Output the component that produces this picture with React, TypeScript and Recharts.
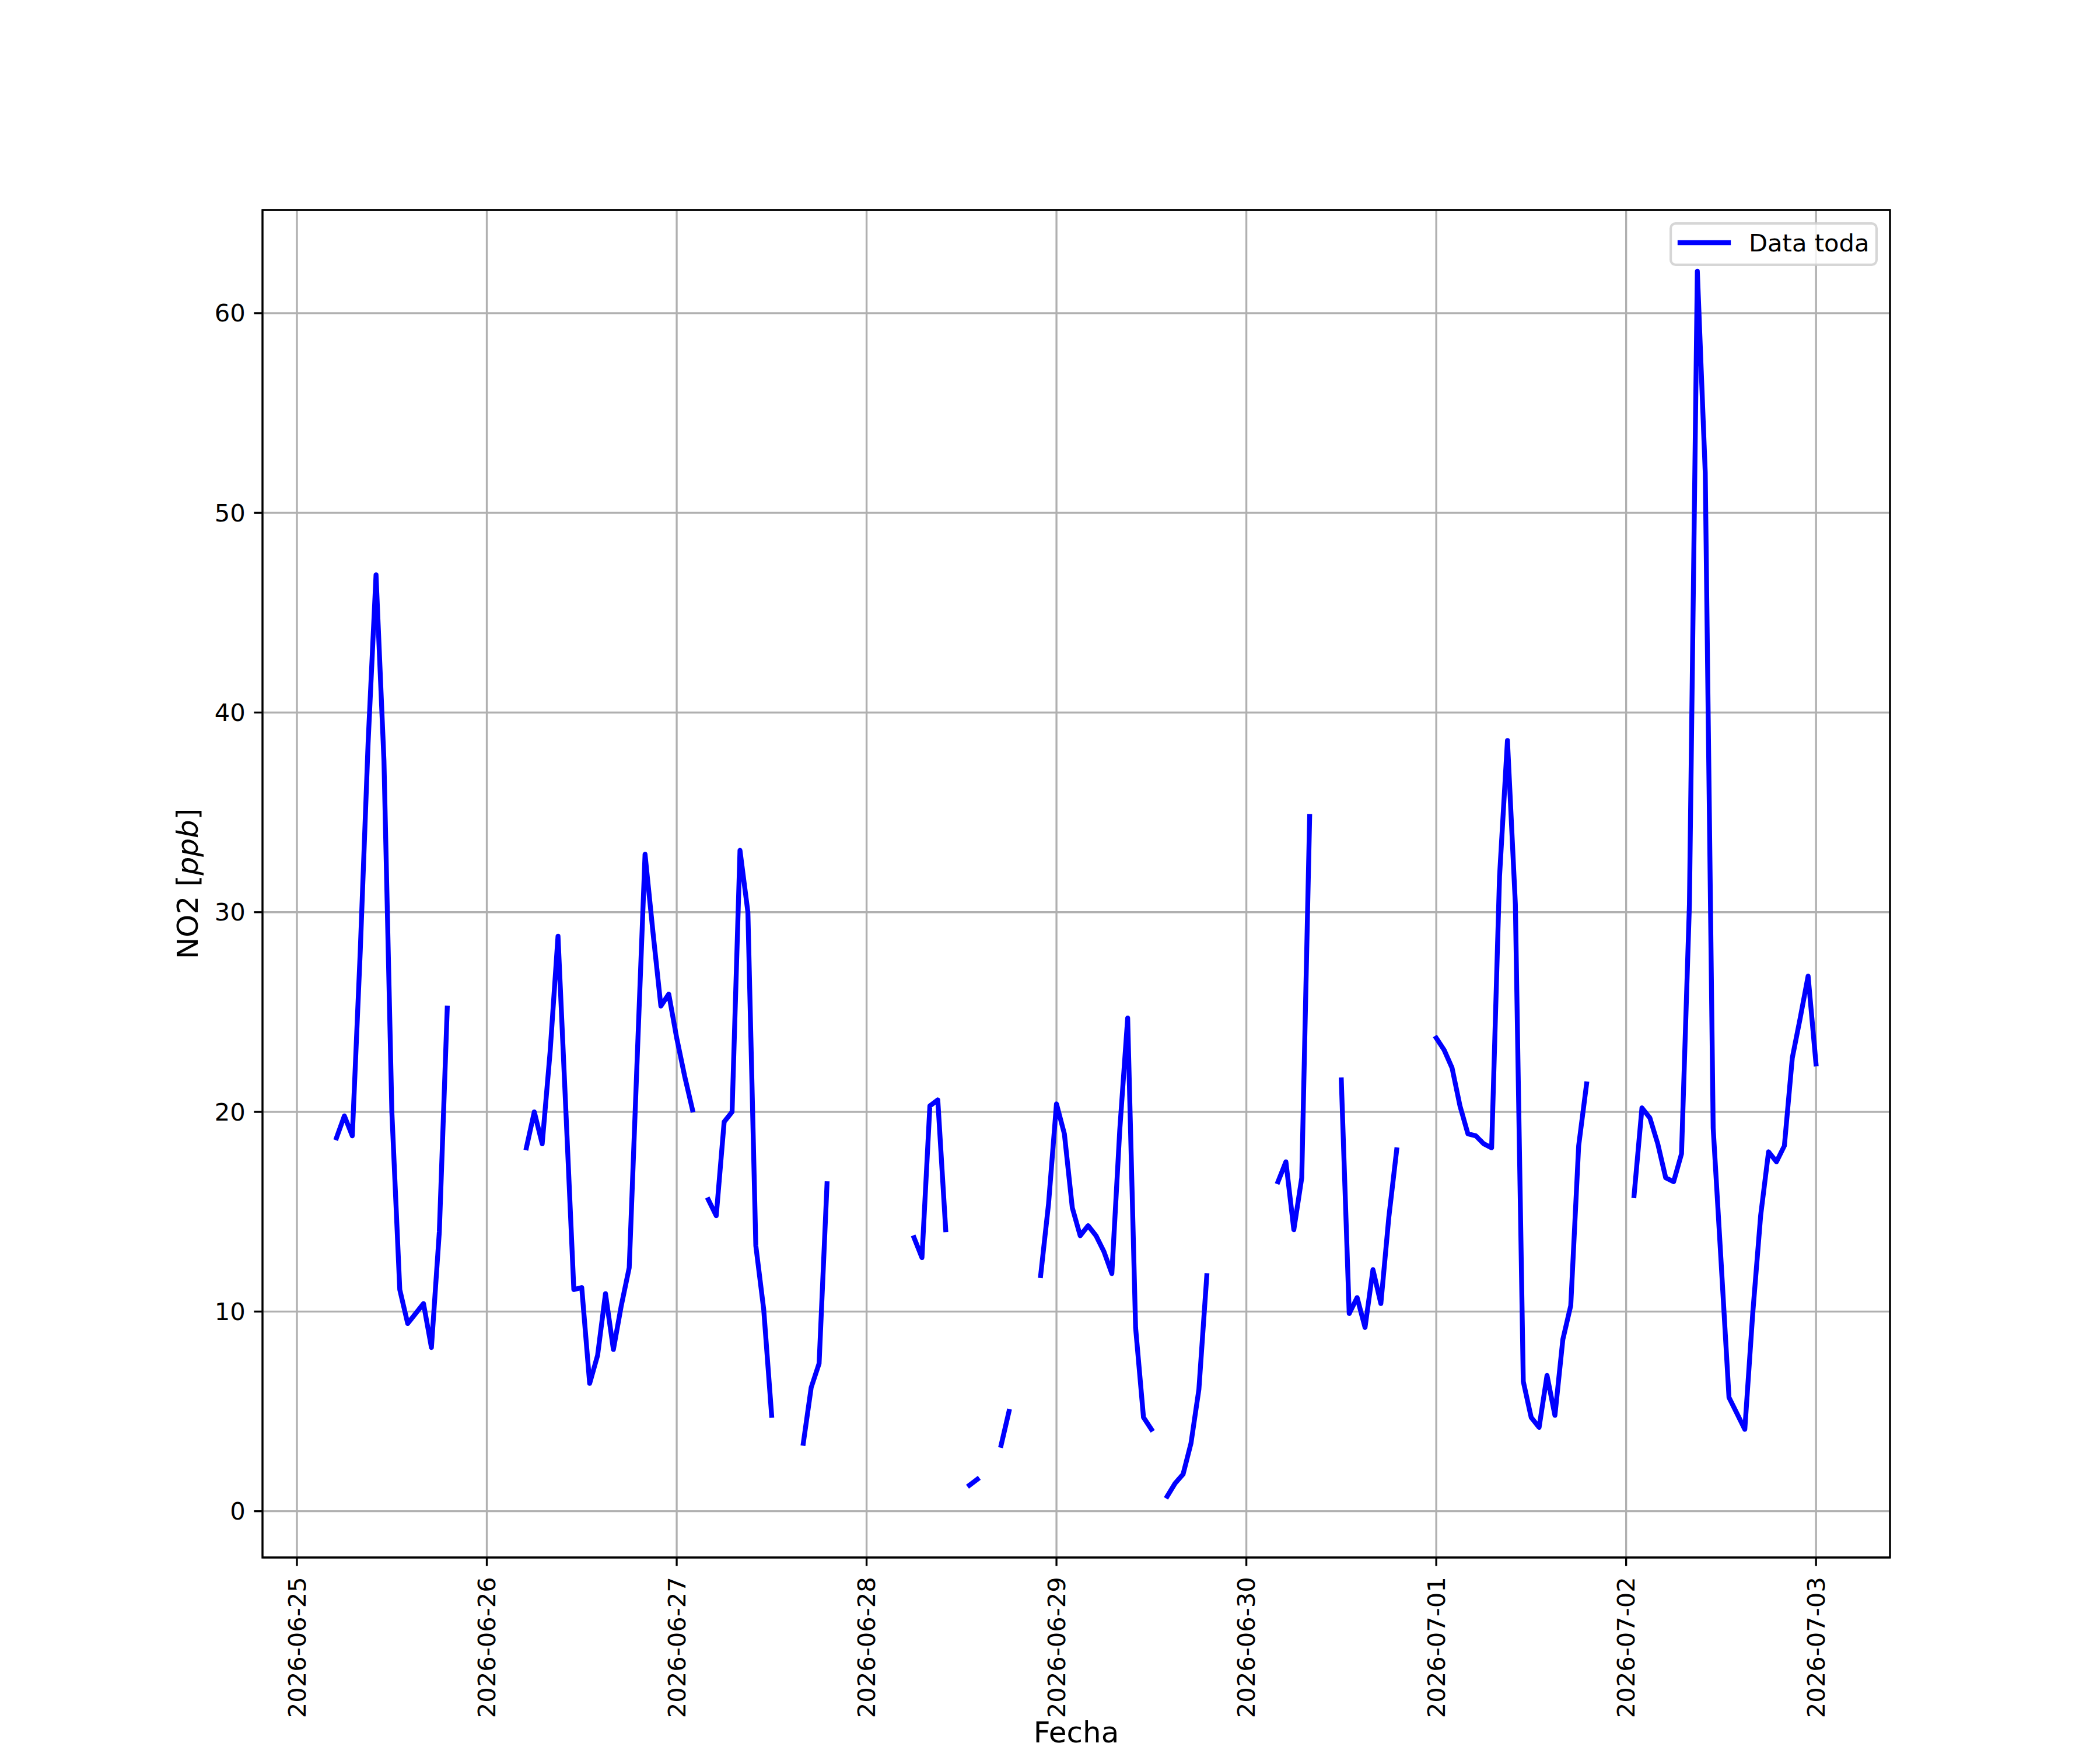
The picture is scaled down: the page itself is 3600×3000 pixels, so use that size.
import React from 'react';
import { LineChart, Line, XAxis, YAxis, CartesianGrid, Legend, ReferenceArea } from 'recharts';

// ---------------- data ----------------
const SERIES_NAME = 'Data toda';
const FIRST_SAMPLE_UTC = Date.UTC(2026, 5, 25, 5); // 2026-06-25 05:00, hourly samples
const HOUR_MS = 3600000;

// NO2 hourly values [ppb], null = missing hour
const no2Jun25 = [18.7, 19.8, 18.8, 28.0, 38.5, 46.9, 37.6, 20.0, 11.1, 9.4, 9.9, 10.4, 8.2, 14.0, 25.2, null, null, null, null]; // 05..23
const no2Jun26 = [null, null, null, null, null, 18.2, 20.0, 18.4, 23.0, 28.8, 20.0, 11.1, 11.2, 6.4, 7.8, 10.9, 8.1, 10.3, 12.2, 22.6, 32.9, 29.0, 25.3, 25.9];
const no2Jun27 = [23.7, 21.8, 20.1, null, 15.6, 14.8, 19.5, 20.0, 33.1, 30.0, 13.3, 10.1, 4.8, null, null, null, 3.4, 6.2, 7.4, 16.4, null, null, null, null];
const no2Jun28 = [null, null, null, null, null, null, 13.7, 12.7, 20.3, 20.6, 14.1, null, null, 1.3, 1.6, null, null, 3.3, 5.0, null, null, null, 11.8, 15.4];
const no2Jun29 = [20.4, 18.9, 15.2, 13.8, 14.3, 13.8, 13.0, 11.9, 19.1, 24.7, 9.2, 4.7, 4.1, null, 0.75, 1.4, 1.85, 3.4, 6.1, 11.8, null, null, null, null];
const no2Jun30 = [null, null, null, null, 16.5, 17.5, 14.1, 16.7, 34.8, null, null, null, 21.6, 9.9, 10.7, 9.2, 12.1, 10.4, 14.7, 18.1, null, null, null, null];
const no2Jul01 = [23.7, 23.1, 22.2, 20.3, 18.9, 18.8, 18.4, 18.2, 31.8, 38.6, 30.4, 6.5, 4.7, 4.2, 6.8, 4.8, 8.6, 10.3, 18.3, 21.4, null, null, null, null];
const no2Jul02 = [null, 15.8, 20.2, 19.7, 18.4, 16.7, 16.5, 17.9, 30.4, 62.1, 52.0, 19.2, 12.5, 5.7, 4.9, 4.1, 9.9, 14.8, 18.0, 17.5, 18.3, 22.7, 24.7, 26.8];
const no2Jul03 = [22.4];

const no2Values: (number | null)[] = [
  ...no2Jun25, ...no2Jun26, ...no2Jun27, ...no2Jun28, ...no2Jun29,
  ...no2Jun30, ...no2Jul01, ...no2Jul02, ...no2Jul03,
];

const xTickLabels = [
  '2026-06-25', '2026-06-26', '2026-06-27', '2026-06-28', '2026-06-29',
  '2026-06-30', '2026-07-01', '2026-07-02', '2026-07-03',
];
const yTicks = [0, 10, 20, 30, 40, 50, 60];

const data = no2Values.map((v, i) => ({ t: FIRST_SAMPLE_UTC + i * HOUR_MS, no2: v }));
const xTicks = xTickLabels.map((s) => Date.parse(s + 'T00:00:00Z'));

// matplotlib-like 5% autoscale margins
const tVals = data.map((d) => d.t);
const vVals = no2Values.filter((v): v is number => v !== null);
const tMin = Math.min(...tVals), tMax = Math.max(...tVals);
const vMin = Math.min(...vVals), vMax = Math.max(...vVals);
const xDomain: [number, number] = [tMin - 0.05 * (tMax - tMin), tMax + 0.05 * (tMax - tMin)];
const yDomain: [number, number] = [vMin - 0.05 * (vMax - vMin), vMax + 0.05 * (vMax - vMin)];

// ---------------- layout / style ----------------
const W = 3600;
const H = 3000;
const PT = 300 / 72;
const PLOT_LEFT = 450;
const PLOT_RIGHT = 3240;
const PLOT_TOP = 360;
const PLOT_BOTTOM = 2670;
const Y_AXIS_W = 150;
const X_AXIS_H = 300;
const FONT = '"DejaVu Sans", sans-serif';
const TICK_FS = 10 * PT;
const LABEL_FS = 12 * PT;
const LINE_COLOR = '#0000ff';
const LINE_W = 2 * PT;
const THIN = 0.8 * PT;
const TICK_LEN = 3.5 * PT;

const fmtDate = (ms: number) => new Date(ms).toISOString().slice(0, 10);

const XTick = (props: any) => {
  const { x, y, payload } = props;
  return (
    <g transform={`translate(${x},${y})`}>
      <text
        x={0}
        y={0}
        transform="rotate(-90)"
        textAnchor="end"
        dominantBaseline="central"
        fontFamily={FONT}
        fontSize={TICK_FS}
        fill="#000"
      >
        {fmtDate(payload.value)}
      </text>
    </g>
  );
};

const YTick = (props: any) => {
  const { x, y, payload } = props;
  return (
    <text x={x} y={y} textAnchor="end" dominantBaseline="central" fontFamily={FONT} fontSize={TICK_FS} fill="#000">
      {String(payload.value)}
    </text>
  );
};

const XTitle = () => (
  <text x={(PLOT_LEFT + PLOT_RIGHT) / 2} y={2987} textAnchor="middle" fontFamily={FONT} fontSize={LABEL_FS} fill="#000">
    Fecha
  </text>
);

const YTitle = () => {
  const cx = 339;
  const cy = (PLOT_TOP + PLOT_BOTTOM) / 2;
  return (
    <text
      x={cx}
      y={cy}
      transform={`rotate(-90, ${cx}, ${cy})`}
      textAnchor="middle"
      fontFamily={FONT}
      fontSize={LABEL_FS}
      fill="#000"
    >
      NO2 [<tspan fontStyle="italic">ppb</tspan>]
    </text>
  );
};

const LEG = { left: 2862, top: 381, w: 357, h: 75 };

const LegendBox = (props: any) => {
  const item = props && props.payload && props.payload[0];
  const color = (item && item.color) || LINE_COLOR;
  const label = (item && item.value) || SERIES_NAME;
  const sw = 1.0 * PT;
  return (
    <svg width={LEG.w} height={LEG.h} style={{ display: 'block', overflow: 'visible' }}>
      <rect
        x={sw / 2}
        y={sw / 2}
        width={LEG.w - sw}
        height={LEG.h - sw}
        rx={8.3}
        ry={8.3}
        fill="#ffffff"
        fillOpacity={0.8}
        stroke="#cccccc"
        strokeOpacity={0.8}
        strokeWidth={sw}
      />
      <line x1={18} x2={101} y1={35} y2={35} stroke={color} strokeWidth={LINE_W} strokeLinecap="square" />
      <text x={136} y={50} fontFamily={FONT} fontSize={TICK_FS} fill="#000">
        {label}
      </text>
    </svg>
  );
};

export default function App() {
  return (
    <div style={{ position: 'absolute', left: 0, top: 0, width: W, height: H, background: '#fff' }}>
      <LineChart
        width={W}
        height={H}
        data={data}
        margin={{
          top: PLOT_TOP,
          right: W - PLOT_RIGHT,
          left: PLOT_LEFT - Y_AXIS_W,
          bottom: H - PLOT_BOTTOM - X_AXIS_H,
        }}
        style={{ fontFamily: FONT, background: '#fff' }}
      >
        <CartesianGrid stroke="#b0b0b0" strokeWidth={THIN} />
        <XAxis
          dataKey="t"
          type="number"
          domain={xDomain}
          allowDataOverflow
          ticks={xTicks}
          interval={0}
          height={X_AXIS_H}
          axisLine={false}
          tickLine={{ stroke: '#000', strokeWidth: THIN }}
          tickSize={TICK_LEN}
          tickMargin={TICK_LEN + 4}
          tick={<XTick />}
          label={XTitle}
        />
        <YAxis
          type="number"
          domain={yDomain}
          allowDataOverflow
          ticks={yTicks}
          interval={0}
          width={Y_AXIS_W}
          axisLine={false}
          tickLine={{ stroke: '#000', strokeWidth: THIN }}
          tickSize={TICK_LEN}
          tickMargin={TICK_LEN}
          tick={<YTick />}
          label={YTitle}
        />
        <Line
          type="linear"
          dataKey="no2"
          name={SERIES_NAME}
          stroke={LINE_COLOR}
          strokeWidth={LINE_W}
          strokeLinecap="square"
          strokeLinejoin="round"
          dot={false}
          activeDot={false}
          connectNulls={false}
          isAnimationActive={false}
        />
        <ReferenceArea
          x1={xDomain[0]}
          x2={xDomain[1]}
          y1={yDomain[0]}
          y2={yDomain[1]}
          fill="none"
          fillOpacity={0}
          stroke="#000"
          strokeWidth={THIN}
          ifOverflow="visible"
        />
        <Legend
          layout="vertical"
          align="center"
          verticalAlign="middle"
          wrapperStyle={{ left: LEG.left, top: LEG.top, width: LEG.w, height: LEG.h }}
          content={LegendBox}
        />
      </LineChart>
    </div>
  );
}
